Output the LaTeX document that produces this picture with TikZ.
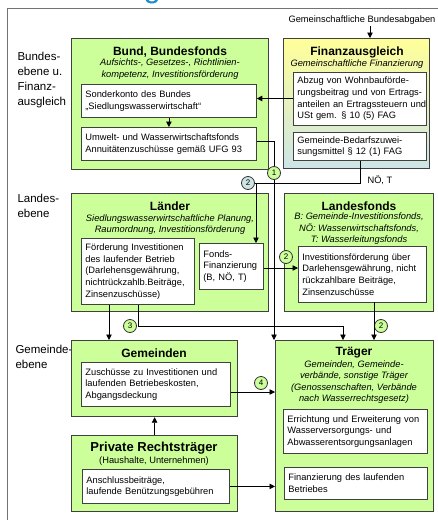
\documentclass[tikz,border=0pt]{standalone}
\usepackage{fontspec}
\setmainfont{Liberation Sans}
\usetikzlibrary{arrows.meta}
\definecolor{lgreen}{RGB}{204,255,153}
\definecolor{fyellow}{RGB}{255,255,153}
\definecolor{fblue}{RGB}{204,228,230}
\definecolor{tblue}{RGB}{30,140,200}
\begin{document}
\begin{tikzpicture}[x=1pt, y=-1pt,
    panel/.style={draw=black!75, line width=1.2pt, fill=lgreen, anchor=north west, inner sep=0pt},
    inbox/.style={draw=black!75, line width=0.8pt, fill=white, anchor=north west, align=left,
                  inner xsep=4pt, inner ysep=0pt, font=\fontsize{9.3}{11.6}\selectfont},
    head/.style={font=\fontsize{12}{14}\selectfont\bfseries},
    sub/.style={align=center, font=\fontsize{9.3}{11.5}\selectfont\itshape},
    level/.style={anchor=west, align=left, font=\fontsize{11.5}{14.7}\selectfont},
    num/.style={circle, draw=black!80, line width=0.8pt, fill=lgreen, inner sep=0pt,
                minimum size=13pt, font=\fontsize{8}{8}\selectfont},
    arr/.style={-{Triangle[length=5.5pt,width=5.5pt]}, line width=0.8pt},
    lbl/.style={font=\fontsize{9.3}{11}\selectfont}
  ]
    \useasboundingbox (0,0) rectangle (438,520);
    \clip (0,0) rectangle (438,520);
    \node[anchor=base west, inner sep=0pt, text=tblue, font=\fontsize{31}{31}\selectfont] (titel) at (40,-2.5) {Siedlungswasserwirtschaft};
    \draw[black!55, line width=0.8pt] (7,530) -- (7,8) -- (450,8);

    \node[level] (ebene1) at (14,80)  {Bundes-\\ebene u.\\Finanz-\\ausgleich};
    \node[level] (ebene2) at (14,206) {Landes-\\ebene};
    \node[level] (ebene3) at (12,357) {Gemeinde-\\ebene};
    \node[lbl] (abgaben) at (362,20) {Gemeinschaftliche Bundesabgaben};
    \coordinate (abg) at (370,26);

    \node[panel, minimum width=197pt, minimum height=131pt] (bund)   at (71,38)  {};
    \node[panel, top color=fyellow, bottom color=fblue,
          minimum width=146pt, minimum height=130pt]         (finanz) at (283,38) {};
    \node[panel, minimum width=197pt, minimum height=118pt] (laender) at (71,193) {};
    \node[panel, minimum width=149pt, minimum height=118pt] (lfonds) at (284,193) {};
    \node[panel, minimum width=166pt, minimum height=76pt]  (gem)    at (71,340)  {};
    \node[panel, minimum width=166pt, minimum height=76pt]  (privat) at (71,435)  {};
    \node[panel, minimum width=158pt, minimum height=171pt] (traeger) at (275,340) {};

    \node[head] (bundT)    at (170,52)  {Bund, Bundesfonds};
    \node[sub]  (bundS)    at (170,69)  {Aufsichts-, Gesetzes-, Richtlinien-\\kompetenz, Investitionsförderung};
    \node[head] (finanzT)  at (357,52)  {Finanzausgleich};
    \node[sub]  (finanzS)  at (357,64)  {Gemeinschaftliche Finanzierung};
    \node[head] (laenderT) at (170,206) {Länder};
    \node[sub]  (laenderS) at (170,224.5) {Siedlungswasserwirtschaftliche Planung,\\Raumordnung, Investitionsförderung};
    \node[head] (lfondsT)  at (359,206) {Landesfonds};
    \node[sub]  (lfondsS)  at (359,229) {B: Gemeinde-Investitionsfonds,\\NÖ: Wasserwirtschaftsfonds,\\T: Wasserleitungsfonds};
    \node[head] (gemT)     at (154,353) {Gemeinden};
    \node[head] (traegerT) at (354,353) {Träger};
    \node[sub]  (traegerS) at (354,382) {Gemeinden, Gemeinde-\\verbände, sonstige Träger\\(Genossenschaften, Verbände\\nach Wasserrechtsgesetz)};
    \node[head, font=\fontsize{13}{15}\selectfont\bfseries] (privatT) at (154,448) {Private Rechtsträger};
    \node[lbl]  (privatS)  at (154,461) {(Haushalte, Unternehmen)};

    \node[inbox, text width=167pt, minimum height=33pt] (sonder)  at (81,84)   {Sonderkonto des Bundes\\„Siedlungswasserwirtschaft“};
    \node[inbox, text width=167pt, minimum height=33pt] (umwelt)  at (81,127)  {Umwelt- und Wasserwirtschaftsfonds\\Annuitätenzuschüsse gemäß UFG 93};
    \node[inbox, text width=125pt, minimum height=53pt] (abzug)   at (293,72)  {Abzug von Wohnbauförde-\\rungsbeitrag und von Ertrags-\\\mbox{anteilen an Ertragssteuern und}\\USt gem. § 10 (5) FAG};
    \node[inbox, text width=125pt, minimum height=28pt] (bedarf)  at (293,132) {Gemeinde-Bedarfszuwei-\\sungsmittel § 12 (1) FAG};
    \node[inbox, text width=105pt, minimum height=66pt] (foerd)   at (81,238)  {Förderung Investitionen\\des laufender Betrieb\\(Darlehensgewährung,\\nichtrückzahlb.Beiträge,\\Zinsenzuschüsse)};
    \node[inbox, text width=56pt, minimum height=46pt]  (fondsfin) at (199,243) {Fonds-\\Finanzierung\\(B, NÖ, T)};
    \node[inbox, text width=120pt, minimum height=56pt] (invest)  at (298,246) {Investitionsförderung über\\Darlehensgewährung, nicht\\rückzahlbare Beiträge,\\Zinsenzuschüsse};
    \node[inbox, text width=141pt, minimum height=44pt] (zusch)   at (81,362)  {Zuschüsse zu Investitionen und\\laufenden Betriebeskosten,\\Abgangsdeckung};
    \node[inbox, text width=139pt, minimum height=34pt] (anschl)  at (82,469)  {Anschlussbeiträge,\\laufende Benützungsgebühren};
    \node[inbox, text width=136pt, minimum height=44pt] (erricht) at (283,409) {Errichtung und Erweiterung von\\Wasserversorgungs- und\\Abwasserentsorgungsanlagen};
    \node[inbox, text width=135pt, minimum height=32pt] (finbetr) at (284,467) {Finanzierung des laufenden\\Betriebes};

    \node[num] (c1)  at (274,173) {1};
    \node[num, fill=fblue] (c2a) at (248,183) {2};
    \node[num] (c2b) at (286,257) {2};
    \node[num] (c3)  at (130,326) {3};
    \node[num] (c2c) at (381,326) {2};
    \node[num] (c4)  at (261,383) {4};
    \coordinate (j2) at (256,183);
    \coordinate (j3) at (343,326);
    \coordinate (iv) at (374,302);
    \node[lbl, anchor=west] (noet) at (364,180) {NÖ, T};

    \draw[arr] (abg) -- (abg |- finanz.north);
    \draw[arr] (abzug.west |- 0,98.5) -- (sonder.east |- 0,98.5);
    \draw[arr] (sonder.south) -- (umwelt.north);
    \draw[line width=0.8pt] (umwelt.east |- 0,141.5) -| (c1.north);
    \draw[arr] (c1.south) -- (c1.south |- traeger.north);
    \draw[line width=0.8pt] (bedarf.south) |- (c2a.east);
    \draw[arr] (j2) -- (j2 |- fondsfin.north);
    \draw[arr] (fondsfin.east |- 0,268) -- (invest.west |- 0,268);
    \draw[arr] (iv) -- (iv |- traeger.north);
    \draw[arr] (foerd.south) |- (j3) -- (j3 |- traeger.north);
    \draw[arr] (foerd.south -| 109,0) -- (gem.north -| 109,0);
    \draw[arr] (zusch.east |- 0,392) -- (traeger.west |- 0,392);
    \draw[arr] (privat.north) -- (gem.south);
    \draw[arr] (anschl.east) -- (anschl.east -| traeger.west);
  \end{tikzpicture}
\end{document}
